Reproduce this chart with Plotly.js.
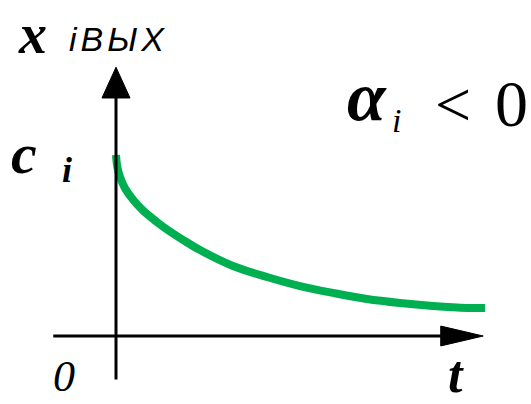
<!DOCTYPE html>
<html>
<head>
<meta charset="utf-8">
<script src="https://cdn.plot.ly/plotly-3.0.1.min.js"></script>
<style>
  html, body { margin: 0; padding: 0; background: #fff; }
  #chart { width: 531px; height: 404px; }
</style>
</head>
<body>
<div id="chart"></div>
<script>
// Output response x_iвых(t) for a negative coefficient: starts at c_i and decays
const tValues = [0, 0.035, 0.108, 0.244, 0.469, 0.74, 1.103, 1.374, 1.824, 2.276, 3.171, 4.092, 4.986, 5.881, 6.802, 7.696, 8.591, 9.512, 10];
const xValues = [1.0, 0.935, 0.88, 0.816, 0.751, 0.692, 0.631, 0.59, 0.53, 0.475, 0.387, 0.326, 0.276, 0.238, 0.204, 0.182, 0.166, 0.155, 0.155];

// Axis extents (in t / x units)
const tAxisStart = -1.7, tAxisEnd = 8.9, tArrowTip = 9.95;
const xAxisStart = -0.24, xAxisEnd = 1.335, xArrowTip = 1.485;
const arrowHalfT = 0.38, arrowHalfX = 0.055;

const W = 531, H = 404;
const px = v => v / W;
const py = v => 1 - v / H;

const serif = 'Times New Roman, Liberation Serif, DejaVu Serif, serif';
const sans = 'Arial, Liberation Sans, sans-serif';

const curve = {
  x: tValues,
  y: xValues,
  type: 'scatter',
  mode: 'lines',
  line: { color: '#00b050', width: 8, shape: 'spline', smoothing: 1 },
  hoverinfo: 'skip'
};

const shapes = [
  // t axis
  { type: 'line', xref: 'x', yref: 'y', x0: tAxisStart, y0: 0, x1: tAxisEnd, y1: 0,
    line: { color: '#000', width: 3 } },
  { type: 'path', xref: 'x', yref: 'y',
    path: `M ${tAxisEnd - 0.1} ${-arrowHalfX} L ${tArrowTip} 0 L ${tAxisEnd - 0.1} ${arrowHalfX} Z`,
    fillcolor: '#000', line: { color: '#000', width: 1 } },
  // x axis
  { type: 'line', xref: 'x', yref: 'y', x0: 0, y0: xAxisStart, x1: 0, y1: xAxisEnd,
    line: { color: '#000', width: 3 } },
  { type: 'path', xref: 'x', yref: 'y',
    path: `M ${-arrowHalfT} ${xAxisEnd - 0.02} L 0 ${xArrowTip} L ${arrowHalfT} ${xAxisEnd - 0.02} Z`,
    fillcolor: '#000', line: { color: '#000', width: 1 } }
];

const ann = (text, x, y, size, style, weight, family) => ({
  text, xref: 'paper', yref: 'paper', x: px(x), y: py(y),
  xanchor: 'left', yanchor: 'middle', showarrow: false,
  font: { family: family || serif, size, style: style || 'normal', weight: weight || 'normal', color: '#000' }
});

const annotations = [
  ann('x', 16, 34, 56, 'italic', 'bold'),
  ann('<span style="letter-spacing:4px">iВЫХ</span>', 67, 39, 34, 'italic', 'normal', sans),
  ann('α', 345, 96, 70, 'italic', 'bold'),
  ann('i', 390, 120, 34, 'italic', 'normal'),
  ann('<', 433, 104, 64, 'normal', 'normal'),
  ann('0', 493, 103, 66, 'normal', 'normal'),
  ann('c', 9, 153, 58, 'italic', 'bold'),
  ann('i', 60, 170, 36, 'italic', 'bold'),
  ann('0', 51, 376, 44, 'italic', 'normal'),
  ann('t', 446, 374, 52, 'italic', 'bold')
];

const layout = {
  width: W, height: H,
  margin: { l: 0, r: 0, t: 0, b: 0 },
  paper_bgcolor: '#fff', plot_bgcolor: '#fff',
  showlegend: false,
  xaxis: { range: [-116 / 36.9, (W - 116) / 36.9], visible: false, fixedrange: true },
  yaxis: { range: [-(H - 336) / 181, 336 / 181], visible: false, fixedrange: true },
  shapes, annotations
};

Plotly.newPlot('chart', [curve], layout, { staticPlot: true, displayModeBar: false });
</script>
</body>
</html>
